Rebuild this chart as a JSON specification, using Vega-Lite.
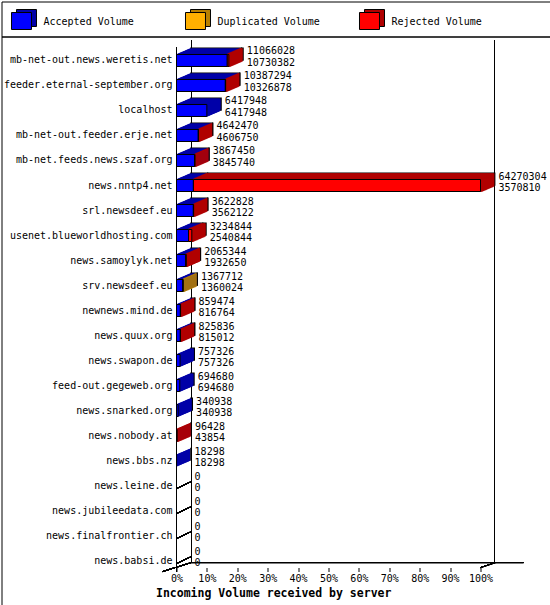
{
  "$schema": "https://vega.github.io/schema/vega-lite/v6.json",
  "background": "white",
  "padding": 0.5,
  "bounds": "flush",
  "spacing": 0,
  "config": {
    "view": {"stroke": "black", "strokeWidth": 1},
    "font": "DejaVu Sans Mono",
    "text": {"fontSize": 10, "color": "black"},
    "rule": {"color": "black", "strokeWidth": 1},
    "bar": {"orient": "horizontal", "height": 12, "strokeWidth": 0}
  },
  "vconcat": [
    {
      "width": 549,
      "height": 35,
      "data": {
        "values": [
          {"series": "Accepted Volume"},
          {"series": "Duplicated Volume"},
          {"series": "Rejected Volume"}
        ]
      },
      "encoding": {
        "x": {
          "field": "series",
          "type": "nominal",
          "sort": null,
          "axis": null,
          "scale": {"type": "point", "padding": 0.5776, "align": 0.0995}
        }
      },
      "layer": [
        {
          "mark": {"type": "point", "shape": "M-1,-0.85L1,-0.85L1,0.85L-1,0.85Z", "size": 400, "filled": true, "opacity": 1, "stroke": "black", "strokeWidth": 1, "xOffset": 5, "yOffset": -1},
          "encoding": {
            "fill": {
              "field": "series",
              "type": "nominal",
              "legend": null,
              "scale": {"domain": ["Accepted Volume", "Duplicated Volume", "Rejected Volume"], "range": ["#0000a8", "#b88000", "#b00000"]}
            }
          }
        },
        {
          "mark": {"type": "point", "shape": "M-1,-0.85L1,-0.85L1,0.85L-1,0.85Z", "size": 400, "filled": true, "opacity": 1, "stroke": "black", "strokeWidth": 1, "yOffset": 2},
          "encoding": {
            "fill": {
              "field": "series",
              "type": "nominal",
              "legend": null,
              "scale": {"domain": ["Accepted Volume", "Duplicated Volume", "Rejected Volume"], "range": ["#0000ff", "#ffb000", "#ff0000"]}
            }
          }
        },
        {
          "mark": {"type": "text", "align": "left", "baseline": "middle", "dx": 22, "dy": 2.5},
          "encoding": {"text": {"field": "series"}}
        }
      ],
      "resolve": {"scale": {"fill": "independent"}}
    },
    {
      "width": 549,
      "height": 569,
      "data": {
        "values": [
          {"host": "mb-net-out.news.weretis.net", "total": 11066028, "accepted": 10730382, "extra": "Rejected Volume"},
          {"host": "feeder.eternal-september.org", "total": 10387294, "accepted": 10326878, "extra": "Rejected Volume"},
          {"host": "localhost", "total": 6417948, "accepted": 6417948, "extra": "Rejected Volume"},
          {"host": "mb-net-out.feeder.erje.net", "total": 4642470, "accepted": 4606750, "extra": "Rejected Volume"},
          {"host": "mb-net.feeds.news.szaf.org", "total": 3867450, "accepted": 3845740, "extra": "Rejected Volume"},
          {"host": "news.nntp4.net", "total": 64270304, "accepted": 3570810, "extra": "Rejected Volume"},
          {"host": "srl.newsdeef.eu", "total": 3622828, "accepted": 3562122, "extra": "Rejected Volume"},
          {"host": "usenet.blueworldhosting.com", "total": 3234844, "accepted": 2540844, "extra": "Rejected Volume"},
          {"host": "news.samoylyk.net", "total": 2065344, "accepted": 1932650, "extra": "Rejected Volume"},
          {"host": "srv.newsdeef.eu", "total": 1367712, "accepted": 1360024, "extra": "Duplicated Volume"},
          {"host": "newnews.mind.de", "total": 859474, "accepted": 816764, "extra": "Rejected Volume"},
          {"host": "news.quux.org", "total": 825836, "accepted": 815012, "extra": "Rejected Volume"},
          {"host": "news.swapon.de", "total": 757326, "accepted": 757326, "extra": "Rejected Volume"},
          {"host": "feed-out.gegeweb.org", "total": 694680, "accepted": 694680, "extra": "Rejected Volume"},
          {"host": "news.snarked.org", "total": 340938, "accepted": 340938, "extra": "Rejected Volume"},
          {"host": "news.nobody.at", "total": 96428, "accepted": 43854, "extra": "Rejected Volume"},
          {"host": "news.bbs.nz", "total": 18298, "accepted": 18298, "extra": "Rejected Volume"},
          {"host": "news.leine.de", "total": 0, "accepted": 0, "extra": "Rejected Volume"},
          {"host": "news.jubileedata.com", "total": 0, "accepted": 0, "extra": "Rejected Volume"},
          {"host": "news.finalfrontier.ch", "total": 0, "accepted": 0, "extra": "Rejected Volume"},
          {"host": "news.babsi.de", "total": 0, "accepted": 0, "extra": "Rejected Volume"}
        ]
      },
      "encoding": {
        "y": {
          "field": "host",
          "type": "nominal",
          "axis": null,
          "scale": {
            "type": "band",
            "domain": ["mb-net-out.news.weretis.net", "feeder.eternal-september.org", "localhost", "mb-net-out.feeder.erje.net", "mb-net.feeds.news.szaf.org", "news.nntp4.net", "srl.newsdeef.eu", "usenet.blueworldhosting.com", "news.samoylyk.net", "srv.newsdeef.eu", "newnews.mind.de", "news.quux.org", "news.swapon.de", "feed-out.gegeweb.org", "news.snarked.org", "news.nobody.at", "news.bbs.nz", "news.leine.de", "news.jubileedata.com", "news.finalfrontier.ch", "news.babsi.de"],
            "paddingInner": 0,
            "paddingOuter": 0.879,
            "align": 0.2614,
            "round": false
          }
        }
      },
      "layer": [
        {
          "mark": {"type": "rule", "xOffset": 15, "yOffset": -20, "y2Offset": 2},
          "encoding": {
            "x": {
              "datum": 0,
              "type": "quantitative",
              "title": "Incoming Volume received by server",
              "scale": {"domain": [-36997843, 79069184], "nice": false, "zero": false},
              "axis": {
                "orient": "bottom",
                "offset": -38,
                "values": [0, 6427030.4, 12854060.8, 19281091.2, 25708121.6, 32135152, 38562182.4, 44989212.8, 51416243.2, 57843273.6, 64270304],
                "labelExpr": "format(datum.value / 64270304, '.0%')",
                "domain": false,
                "grid": false,
                "ticks": true,
                "tickSize": 4,
                "tickColor": "black",
                "labelPadding": 2,
                "labelFontSize": 10,
                "labelColor": "black",
                "labelFlush": false,
                "labelOverlap": false,
                "titleX": 154,
                "titleY": 26,
                "titleAlign": "left",
                "titleAnchor": "start",
                "titleBaseline": "middle",
                "titleFontSize": 11.5,
                "titleFontWeight": "bold",
                "titleColor": "black"
              }
            },
            "y": {"datum": "mb-net-out.news.weretis.net"},
            "y2": {"datum": "news.babsi.de"}
          }
        },
        {
          "mark": {"type": "rule", "xOffset": 14, "yOffset": -20, "y2Offset": 2},
          "encoding": {
            "x": {"datum": 64270304, "type": "quantitative"},
            "y": {"datum": "mb-net-out.news.weretis.net"},
            "y2": {"datum": "news.babsi.de"}
          }
        },
        {
          "mark": {"type": "rule", "xOffset": 15, "x2Offset": 43, "yOffset": 2},
          "encoding": {
            "x": {"datum": 0, "type": "quantitative"},
            "x2": {"datum": 64270304},
            "y": {"datum": "news.babsi.de"}
          }
        },
        {
          "mark": {"type": "rule", "xOffset": -14, "x2Offset": 15, "yOffset": 11, "y2Offset": 2},
          "encoding": {
            "x": {"datum": 0, "type": "quantitative"},
            "x2": {"datum": 0},
            "y": {"datum": "news.babsi.de"},
            "y2": {"datum": "news.babsi.de"}
          }
        },
        {
          "mark": {"type": "rule", "xOffset": 0, "x2Offset": 15, "yOffset": 7, "y2Offset": 2},
          "encoding": {
            "x": {"datum": 64270304, "type": "quantitative"},
            "x2": {"datum": 64270304},
            "y": {"datum": "news.babsi.de"},
            "y2": {"datum": "news.babsi.de"}
          }
        },
        {
          "mark": {"type": "rule", "yOffset": -13, "y2Offset": 11},
          "encoding": {
            "x": {"datum": 0, "type": "quantitative"},
            "y": {"datum": "mb-net-out.news.weretis.net"},
            "y2": {"datum": "news.babsi.de"}
          }
        },
        {
          "mark": {"type": "rule", "xOffset": 0, "x2Offset": 15, "yOffset": 3, "y2Offset": -4},
          "encoding": {
            "x": {"datum": 0, "type": "quantitative"},
            "x2": {"datum": 0},
            "y": {"datum": "news.leine.de"},
            "y2": {"datum": "news.leine.de"}
          }
        },
        {
          "mark": {"type": "rule", "xOffset": 0, "x2Offset": 15, "yOffset": 3, "y2Offset": -4},
          "encoding": {
            "x": {"datum": 0, "type": "quantitative"},
            "x2": {"datum": 0},
            "y": {"datum": "news.jubileedata.com"},
            "y2": {"datum": "news.jubileedata.com"}
          }
        },
        {
          "mark": {"type": "rule", "xOffset": 0, "x2Offset": 15, "yOffset": 3, "y2Offset": -4},
          "encoding": {
            "x": {"datum": 0, "type": "quantitative"},
            "x2": {"datum": 0},
            "y": {"datum": "news.finalfrontier.ch"},
            "y2": {"datum": "news.finalfrontier.ch"}
          }
        },
        {
          "mark": {"type": "rule", "xOffset": 0, "x2Offset": 15, "yOffset": 3, "y2Offset": -4},
          "encoding": {
            "x": {"datum": 0, "type": "quantitative"},
            "x2": {"datum": 0},
            "y": {"datum": "news.babsi.de"},
            "y2": {"datum": "news.babsi.de"}
          }
        },
        {"transform": [{"filter": "datum.accepted > 0"}], "mark": {"type": "bar", "xOffset": 14.3, "x2Offset": 14.3, "yOffset": -6.3, "y2Offset": -6.3, "fill": "#0000a8", "stroke": "black", "strokeWidth": 1.2}, "encoding": {"x": {"field": "accepted", "type": "quantitative", "title": "Incoming Volume received by server"}}},
        {"transform": [{"filter": "datum.total > datum.accepted"}], "mark": {"type": "bar", "xOffset": 14.3, "x2Offset": 14.3, "yOffset": -6.3, "y2Offset": -6.3, "stroke": "black", "strokeWidth": 1.2}, "encoding": {"x": {"field": "accepted", "type": "quantitative", "title": "Incoming Volume received by server"}, "x2": {"field": "total"}, "fill": {"condition": {"test": "datum.extra === 'Duplicated Volume'", "value": "#b88000"}, "value": "#b00000"}}},
        {"transform": [{"filter": "datum.accepted > 0"}], "mark": {"type": "bar", "xOffset": 13, "x2Offset": 13, "yOffset": -5.57, "y2Offset": -5.57, "fill": "#0000a8", "stroke": "#0000a8", "strokeWidth": 1}, "encoding": {"x": {"field": "accepted", "type": "quantitative", "title": "Incoming Volume received by server"}}},
        {"transform": [{"filter": "datum.total > datum.accepted"}], "mark": {"type": "bar", "xOffset": 13, "x2Offset": 13, "yOffset": -5.57, "y2Offset": -5.57, "strokeWidth": 1.6}, "encoding": {"x": {"field": "accepted", "type": "quantitative", "title": "Incoming Volume received by server"}, "x2": {"field": "total"}, "fill": {"condition": {"test": "datum.extra === 'Duplicated Volume'", "value": "#b88000"}, "value": "#b00000"}, "stroke": {"condition": {"test": "datum.extra === 'Duplicated Volume'", "value": "#b88000"}, "value": "#b00000"}}},
        {"transform": [{"filter": "datum.accepted > 0"}], "mark": {"type": "bar", "xOffset": 12, "x2Offset": 12, "yOffset": -5.14, "y2Offset": -5.14, "fill": "#0000a8", "stroke": "#0000a8", "strokeWidth": 1}, "encoding": {"x": {"field": "accepted", "type": "quantitative", "title": "Incoming Volume received by server"}}},
        {"transform": [{"filter": "datum.total > datum.accepted"}], "mark": {"type": "bar", "xOffset": 12, "x2Offset": 12, "yOffset": -5.14, "y2Offset": -5.14, "strokeWidth": 1.6}, "encoding": {"x": {"field": "accepted", "type": "quantitative", "title": "Incoming Volume received by server"}, "x2": {"field": "total"}, "fill": {"condition": {"test": "datum.extra === 'Duplicated Volume'", "value": "#b88000"}, "value": "#b00000"}, "stroke": {"condition": {"test": "datum.extra === 'Duplicated Volume'", "value": "#b88000"}, "value": "#b00000"}}},
        {"transform": [{"filter": "datum.accepted > 0"}], "mark": {"type": "bar", "xOffset": 11, "x2Offset": 11, "yOffset": -4.71, "y2Offset": -4.71, "fill": "#0000a8", "stroke": "#0000a8", "strokeWidth": 1}, "encoding": {"x": {"field": "accepted", "type": "quantitative", "title": "Incoming Volume received by server"}}},
        {"transform": [{"filter": "datum.total > datum.accepted"}], "mark": {"type": "bar", "xOffset": 11, "x2Offset": 11, "yOffset": -4.71, "y2Offset": -4.71, "strokeWidth": 1.6}, "encoding": {"x": {"field": "accepted", "type": "quantitative", "title": "Incoming Volume received by server"}, "x2": {"field": "total"}, "fill": {"condition": {"test": "datum.extra === 'Duplicated Volume'", "value": "#b88000"}, "value": "#b00000"}, "stroke": {"condition": {"test": "datum.extra === 'Duplicated Volume'", "value": "#b88000"}, "value": "#b00000"}}},
        {"transform": [{"filter": "datum.accepted > 0"}], "mark": {"type": "bar", "xOffset": 10, "x2Offset": 10, "yOffset": -4.29, "y2Offset": -4.29, "fill": "#0000a8", "stroke": "#0000a8", "strokeWidth": 1}, "encoding": {"x": {"field": "accepted", "type": "quantitative", "title": "Incoming Volume received by server"}}},
        {"transform": [{"filter": "datum.total > datum.accepted"}], "mark": {"type": "bar", "xOffset": 10, "x2Offset": 10, "yOffset": -4.29, "y2Offset": -4.29, "strokeWidth": 1.6}, "encoding": {"x": {"field": "accepted", "type": "quantitative", "title": "Incoming Volume received by server"}, "x2": {"field": "total"}, "fill": {"condition": {"test": "datum.extra === 'Duplicated Volume'", "value": "#b88000"}, "value": "#b00000"}, "stroke": {"condition": {"test": "datum.extra === 'Duplicated Volume'", "value": "#b88000"}, "value": "#b00000"}}},
        {"transform": [{"filter": "datum.accepted > 0"}], "mark": {"type": "bar", "xOffset": 9, "x2Offset": 9, "yOffset": -3.86, "y2Offset": -3.86, "fill": "#0000a8", "stroke": "#0000a8", "strokeWidth": 1}, "encoding": {"x": {"field": "accepted", "type": "quantitative", "title": "Incoming Volume received by server"}}},
        {"transform": [{"filter": "datum.total > datum.accepted"}], "mark": {"type": "bar", "xOffset": 9, "x2Offset": 9, "yOffset": -3.86, "y2Offset": -3.86, "strokeWidth": 1.6}, "encoding": {"x": {"field": "accepted", "type": "quantitative", "title": "Incoming Volume received by server"}, "x2": {"field": "total"}, "fill": {"condition": {"test": "datum.extra === 'Duplicated Volume'", "value": "#b88000"}, "value": "#b00000"}, "stroke": {"condition": {"test": "datum.extra === 'Duplicated Volume'", "value": "#b88000"}, "value": "#b00000"}}},
        {"transform": [{"filter": "datum.accepted > 0"}], "mark": {"type": "bar", "xOffset": 8, "x2Offset": 8, "yOffset": -3.43, "y2Offset": -3.43, "fill": "#0000a8", "stroke": "#0000a8", "strokeWidth": 1}, "encoding": {"x": {"field": "accepted", "type": "quantitative", "title": "Incoming Volume received by server"}}},
        {"transform": [{"filter": "datum.total > datum.accepted"}], "mark": {"type": "bar", "xOffset": 8, "x2Offset": 8, "yOffset": -3.43, "y2Offset": -3.43, "strokeWidth": 1.6}, "encoding": {"x": {"field": "accepted", "type": "quantitative", "title": "Incoming Volume received by server"}, "x2": {"field": "total"}, "fill": {"condition": {"test": "datum.extra === 'Duplicated Volume'", "value": "#b88000"}, "value": "#b00000"}, "stroke": {"condition": {"test": "datum.extra === 'Duplicated Volume'", "value": "#b88000"}, "value": "#b00000"}}},
        {"transform": [{"filter": "datum.accepted > 0"}], "mark": {"type": "bar", "xOffset": 7, "x2Offset": 7, "yOffset": -3, "y2Offset": -3, "fill": "#0000a8", "stroke": "#0000a8", "strokeWidth": 1}, "encoding": {"x": {"field": "accepted", "type": "quantitative", "title": "Incoming Volume received by server"}}},
        {"transform": [{"filter": "datum.total > datum.accepted"}], "mark": {"type": "bar", "xOffset": 7, "x2Offset": 7, "yOffset": -3, "y2Offset": -3, "strokeWidth": 1.6}, "encoding": {"x": {"field": "accepted", "type": "quantitative", "title": "Incoming Volume received by server"}, "x2": {"field": "total"}, "fill": {"condition": {"test": "datum.extra === 'Duplicated Volume'", "value": "#b88000"}, "value": "#b00000"}, "stroke": {"condition": {"test": "datum.extra === 'Duplicated Volume'", "value": "#b88000"}, "value": "#b00000"}}},
        {"transform": [{"filter": "datum.accepted > 0"}], "mark": {"type": "bar", "xOffset": 6, "x2Offset": 6, "yOffset": -2.57, "y2Offset": -2.57, "fill": "#0000a8", "stroke": "#0000a8", "strokeWidth": 1}, "encoding": {"x": {"field": "accepted", "type": "quantitative", "title": "Incoming Volume received by server"}}},
        {"transform": [{"filter": "datum.total > datum.accepted"}], "mark": {"type": "bar", "xOffset": 6, "x2Offset": 6, "yOffset": -2.57, "y2Offset": -2.57, "strokeWidth": 1.6}, "encoding": {"x": {"field": "accepted", "type": "quantitative", "title": "Incoming Volume received by server"}, "x2": {"field": "total"}, "fill": {"condition": {"test": "datum.extra === 'Duplicated Volume'", "value": "#b88000"}, "value": "#b00000"}, "stroke": {"condition": {"test": "datum.extra === 'Duplicated Volume'", "value": "#b88000"}, "value": "#b00000"}}},
        {"transform": [{"filter": "datum.accepted > 0"}], "mark": {"type": "bar", "xOffset": 5, "x2Offset": 5, "yOffset": -2.14, "y2Offset": -2.14, "fill": "#0000a8", "stroke": "#0000a8", "strokeWidth": 1}, "encoding": {"x": {"field": "accepted", "type": "quantitative", "title": "Incoming Volume received by server"}}},
        {"transform": [{"filter": "datum.total > datum.accepted"}], "mark": {"type": "bar", "xOffset": 5, "x2Offset": 5, "yOffset": -2.14, "y2Offset": -2.14, "strokeWidth": 1.6}, "encoding": {"x": {"field": "accepted", "type": "quantitative", "title": "Incoming Volume received by server"}, "x2": {"field": "total"}, "fill": {"condition": {"test": "datum.extra === 'Duplicated Volume'", "value": "#b88000"}, "value": "#b00000"}, "stroke": {"condition": {"test": "datum.extra === 'Duplicated Volume'", "value": "#b88000"}, "value": "#b00000"}}},
        {"transform": [{"filter": "datum.accepted > 0"}], "mark": {"type": "bar", "xOffset": 4, "x2Offset": 4, "yOffset": -1.71, "y2Offset": -1.71, "fill": "#0000a8", "stroke": "#0000a8", "strokeWidth": 1}, "encoding": {"x": {"field": "accepted", "type": "quantitative", "title": "Incoming Volume received by server"}}},
        {"transform": [{"filter": "datum.total > datum.accepted"}], "mark": {"type": "bar", "xOffset": 4, "x2Offset": 4, "yOffset": -1.71, "y2Offset": -1.71, "strokeWidth": 1.6}, "encoding": {"x": {"field": "accepted", "type": "quantitative", "title": "Incoming Volume received by server"}, "x2": {"field": "total"}, "fill": {"condition": {"test": "datum.extra === 'Duplicated Volume'", "value": "#b88000"}, "value": "#b00000"}, "stroke": {"condition": {"test": "datum.extra === 'Duplicated Volume'", "value": "#b88000"}, "value": "#b00000"}}},
        {"transform": [{"filter": "datum.accepted > 0"}], "mark": {"type": "bar", "xOffset": 3, "x2Offset": 3, "yOffset": -1.29, "y2Offset": -1.29, "fill": "#0000a8", "stroke": "#0000a8", "strokeWidth": 1}, "encoding": {"x": {"field": "accepted", "type": "quantitative", "title": "Incoming Volume received by server"}}},
        {"transform": [{"filter": "datum.total > datum.accepted"}], "mark": {"type": "bar", "xOffset": 3, "x2Offset": 3, "yOffset": -1.29, "y2Offset": -1.29, "strokeWidth": 1.6}, "encoding": {"x": {"field": "accepted", "type": "quantitative", "title": "Incoming Volume received by server"}, "x2": {"field": "total"}, "fill": {"condition": {"test": "datum.extra === 'Duplicated Volume'", "value": "#b88000"}, "value": "#b00000"}, "stroke": {"condition": {"test": "datum.extra === 'Duplicated Volume'", "value": "#b88000"}, "value": "#b00000"}}},
        {"transform": [{"filter": "datum.accepted > 0"}], "mark": {"type": "bar", "xOffset": 2, "x2Offset": 2, "yOffset": -0.86, "y2Offset": -0.86, "fill": "#0000a8", "stroke": "#0000a8", "strokeWidth": 1}, "encoding": {"x": {"field": "accepted", "type": "quantitative", "title": "Incoming Volume received by server"}}},
        {"transform": [{"filter": "datum.total > datum.accepted"}], "mark": {"type": "bar", "xOffset": 2, "x2Offset": 2, "yOffset": -0.86, "y2Offset": -0.86, "strokeWidth": 1.6}, "encoding": {"x": {"field": "accepted", "type": "quantitative", "title": "Incoming Volume received by server"}, "x2": {"field": "total"}, "fill": {"condition": {"test": "datum.extra === 'Duplicated Volume'", "value": "#b88000"}, "value": "#b00000"}, "stroke": {"condition": {"test": "datum.extra === 'Duplicated Volume'", "value": "#b88000"}, "value": "#b00000"}}},
        {"transform": [{"filter": "datum.accepted > 0"}], "mark": {"type": "bar", "xOffset": 1, "x2Offset": 1, "yOffset": -0.43, "y2Offset": -0.43, "fill": "#0000a8", "stroke": "#0000a8", "strokeWidth": 1}, "encoding": {"x": {"field": "accepted", "type": "quantitative", "title": "Incoming Volume received by server"}}},
        {"transform": [{"filter": "datum.total > datum.accepted"}], "mark": {"type": "bar", "xOffset": 1, "x2Offset": 1, "yOffset": -0.43, "y2Offset": -0.43, "strokeWidth": 1.6}, "encoding": {"x": {"field": "accepted", "type": "quantitative", "title": "Incoming Volume received by server"}, "x2": {"field": "total"}, "fill": {"condition": {"test": "datum.extra === 'Duplicated Volume'", "value": "#b88000"}, "value": "#b00000"}, "stroke": {"condition": {"test": "datum.extra === 'Duplicated Volume'", "value": "#b88000"}, "value": "#b00000"}}},
        {
          "mark": {"type": "bar", "fill": "#0000ff", "stroke": "black", "strokeWidth": 1},
          "encoding": {"x": {"field": "accepted", "type": "quantitative", "title": "Incoming Volume received by server"}}
        },
        {
          "transform": [{"filter": "datum.total > datum.accepted"}],
          "mark": {"type": "bar", "stroke": "black", "strokeWidth": 1},
          "encoding": {
            "x": {"field": "accepted", "type": "quantitative", "title": "Incoming Volume received by server"},
            "x2": {"field": "total"},
            "fill": {"condition": {"test": "datum.extra === 'Duplicated Volume'", "value": "#ffb000"}, "value": "#ff0000"}
          }
        },
        {
          "mark": {"type": "text", "align": "right", "baseline": "middle", "dx": -4},
          "encoding": {
            "x": {"datum": 0, "type": "quantitative"},
            "text": {"field": "host"}
          }
        },
        {
          "mark": {"type": "text", "align": "left", "baseline": "middle", "dx": 18, "dy": -9},
          "encoding": {
            "x": {"field": "total", "type": "quantitative", "title": "Incoming Volume received by server"},
            "text": {"field": "total", "type": "quantitative", "format": "d"}
          }
        },
        {
          "mark": {"type": "text", "align": "left", "baseline": "middle", "dx": 18, "dy": 2.5},
          "encoding": {
            "x": {"field": "total", "type": "quantitative", "title": "Incoming Volume received by server"},
            "text": {"field": "accepted", "type": "quantitative", "format": "d"}
          }
        }
      ]
    }
  ]
}
